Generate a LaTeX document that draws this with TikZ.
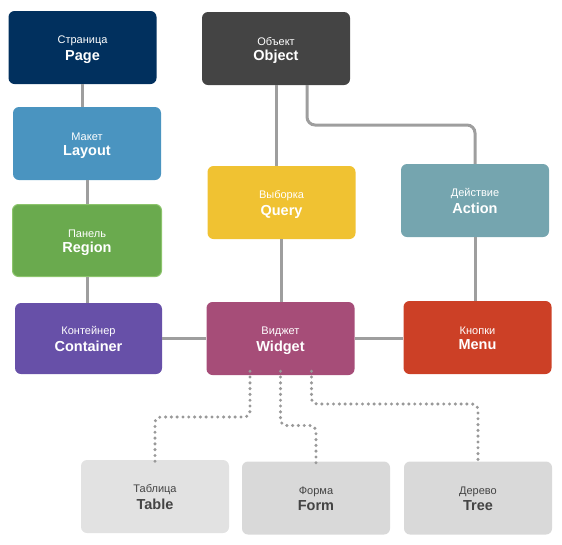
\documentclass[tikz,border=0pt]{standalone}
\usepackage{fontspec}
\setmainfont{Liberation Sans}
\definecolor{cPage}{HTML}{01305E}
\definecolor{cObject}{HTML}{444444}
\definecolor{cLayout}{HTML}{4A94C0}
\definecolor{cQuery}{HTML}{F0C232}
\definecolor{cAction}{HTML}{75A5AF}
\definecolor{cRegion}{HTML}{6AAA4E}
\definecolor{cRegionB}{HTML}{8CC46C}
\definecolor{cContainer}{HTML}{6750A8}
\definecolor{cWidget}{HTML}{A64D78}
\definecolor{cMenu}{HTML}{CC4026}
\definecolor{cTable}{HTML}{E2E2E2}
\definecolor{cForm}{HTML}{D9D9D9}
\definecolor{cLine}{HTML}{9E9E9E}
\definecolor{cDot}{HTML}{999999}
\definecolor{cGrayText}{HTML}{444444}
\newcommand{\lbl}[2]{\rule{0pt}{12pt}{\fontsize{11}{12}\selectfont #1}\\[3.5pt]{\fontsize{14.5}{16}\selectfont\bfseries #2\vphantom{g}}}
\begin{document}
\begin{tikzpicture}[x=1pt,y=-1pt,
  box/.style={rectangle, rounded corners=6pt, minimum width=148pt, minimum height=73pt,
    inner sep=0pt, align=center, text=white},
  graybox/.style={box, text=cGrayText},
  conn/.style={draw=cLine, line width=3pt},
  dotconn/.style={draw=cDot, line width=3.4pt, line cap=round, dash pattern=on 0pt off 5.8pt, rounded corners=6pt}]
\useasboundingbox (0,0) rectangle (562,544);

\node[box, fill=cPage] (page) at (82.5,47.5) {\lbl{Страница}{Page}};
\node[box, fill=cObject] (object) at (276,48.5) {\lbl{Объект}{Object}};
\node[box, fill=cLayout] (layout) at (87,143.5) {\lbl{Макет}{Layout}};
\node[box, fill=cQuery] (query) at (281.5,202.5) {\lbl{Выборка}{Query}};
\node[box, fill=cAction] (action) at (475,200.5) {\lbl{Действие}{Action}};
\node[box, fill=cRegion, draw=cRegionB, line width=1pt, minimum width=149pt, minimum height=72pt] (region) at (87,240.5) {\lbl{Панель}{Region}};
\node[box, fill=cContainer, minimum width=147pt, minimum height=71pt] (container) at (88.5,338.5) {\lbl{Контейнер}{Container}};
\node[box, fill=cWidget] (widget) at (280.5,338.5) {\lbl{Виджет}{Widget}};
\node[box, fill=cMenu] (menu) at (477.5,337.5) {\lbl{Кнопки}{Menu}};
\node[graybox, fill=cTable] (table) at (155,496.5) {\lbl{Таблица}{Table}};
\node[graybox, fill=cForm] (form) at (316,498) {\lbl{Форма}{Form}};
\node[graybox, fill=cForm] (tree) at (478,498) {\lbl{Дерево}{Tree}};

\draw[conn] (page.south) -- (page.south |- layout.north);
\draw[conn] (layout.south) -- (layout.south |- region.north);
\draw[conn] (region.south) -- (region.south |- container.north);
\draw[conn] (object.south) -- (object.south |- query.north);
\coordinate (oaturn) at (0,125);
\draw[conn, rounded corners=8pt] ([xshift=31pt]object.south) |- (action.north |- oaturn) -- (action.north);
\draw[conn] (query.south) -- (query.south |- widget.north);
\draw[conn] (action.south) -- (action.south |- menu.north);
\draw[conn] (container.east) -- (container.east -| widget.west);
\draw[conn] (widget.east) -- (widget.east -| menu.west);

\coordinate (t1) at (0,417);
\coordinate (t2) at (0,425.5);
\coordinate (t3) at (0,404);
\draw[dotconn] ([xshift=-30.5pt,yshift=4pt]widget.south) |- (table.north |- t1) -- ([yshift=-3pt]table.north);
\draw[dotconn] ([yshift=4pt]widget.south) |- (form.north |- t2) -- ([yshift=-3pt]form.north);
\draw[dotconn] ([xshift=31pt,yshift=4pt]widget.south) |- (tree.north |- t3) -- ([yshift=-3pt]tree.north);
\end{tikzpicture}
\end{document}
